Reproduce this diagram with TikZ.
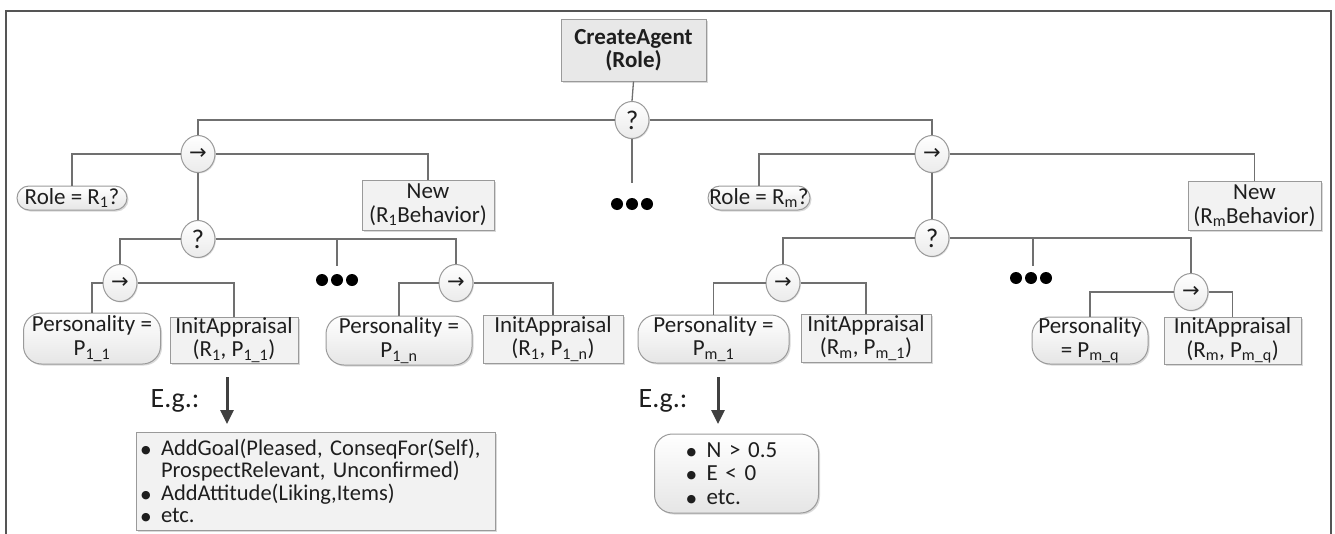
\documentclass[tikz,border=0pt]{standalone}
\usepackage{fontspec}
\setmainfont{Carlito}
\newfontfamily\symfont{DejaVu Sans}
\renewcommand\normalsize{\fontsize{23}{23.5}\selectfont}
\usetikzlibrary{arrows.meta,shapes.geometric,shadows}
\definecolor{linec}{HTML}{707070}
\definecolor{bordc}{HTML}{9A9A9A}
\definecolor{boxfill}{HTML}{F2F2F2}
\definecolor{cafill}{HTML}{E8E8E8}
\definecolor{txt}{HTML}{1E1E1E}
\definecolor{framec}{HTML}{555555}
\newcommand{\sbs}[1]{\textsubscript{#1}}
\newcommand{\seqsym}{{\symfont\fontsize{21}{21}\selectfont →}}
\newcommand{\blt}{\makebox[20pt][l]{\raisebox{2pt}{\symfont\fontsize{11}{11}\selectfont ●}}}
\tikzset{
  conn/.style={draw=linec, line width=1.3pt},
  sqbox/.style={draw=bordc, line width=1pt, fill=boxfill, text=txt, align=center, inner sep=0pt,
    drop shadow={shadow xshift=1.5pt, shadow yshift=-1.5pt, fill=black, opacity=0.15}},
  rndbox/.style={draw=bordc, line width=1pt, top color=white, bottom color=black!10, text=txt, align=center,
    inner sep=0pt, rounded corners=18pt,
    drop shadow={shadow xshift=1.5pt, shadow yshift=-1.5pt, fill=black, opacity=0.15}},
  ctl/.style={ellipse, draw=bordc, line width=1pt, top color=white, bottom color=black!8, text=txt,
    inner sep=0pt, minimum width=34pt, minimum height=37pt,
    drop shadow={shadow xshift=1pt, shadow yshift=-1pt, fill=black, opacity=0.12}},
  qmark/.style={ctl, font=\fontsize{27}{27}\selectfont},
  egtext/.style={text=txt, font=\fontsize{28}{30}\selectfont, inner sep=0pt},
  bigarrow/.style={draw=black!75, line width=3pt, -{Triangle[length=14pt,width=13pt]}},
  dotmark/.style={fill=black},
}
\begin{document}
\begin{tikzpicture}[x=1pt,y=-1pt]
\useasboundingbox (0,0) rectangle (1335,533);
\draw[draw=framec, line width=2pt] (6,534) -- (6,11) -- (1331,11) -- (1331,534);

% root
\node[sqbox, fill=cafill, minimum width=145pt, minimum height=62pt, font=\bfseries] (ca) at (633.5,50) {CreateAgent\\(Role)};
\node[qmark] (q0) at (632,120) {?};
\coordinate (c0) at (632,183);
\fill[dotmark] (617,204) circle (6pt) (632,204) circle (6pt) (647,204) circle (6pt);

% left branch
\node[ctl] (s1) at (198,154) {\seqsym};
\node[rndbox, rounded corners=12pt, minimum width=110pt, minimum height=24pt] (r1) at (72,198) {Role = R\sbs{1}?};
\node[sqbox, minimum width=132pt, minimum height=50pt] (n1) at (428,205) {New\\(R\sbs{1}Behavior)};
\node[qmark] (q1) at (198,239) {?};
\coordinate (m1) at (337,266);
\fill[dotmark] (322,280) circle (6pt) (337,280) circle (6pt) (352,280) circle (6pt);
\node[ctl] (s11) at (120,283) {\seqsym};
\node[ctl] (s1n) at (456,283) {\seqsym};
\node[rndbox, minimum width=137pt, minimum height=51pt] (p11) at (92,338.5) {Personality =\\P\sbs{1\_1}};
\node[sqbox, minimum width=128pt, minimum height=46pt] (i11) at (234,340) {InitAppraisal\\(R\sbs{1}, P\sbs{1\_1})};
\node[rndbox, minimum width=146pt, minimum height=49pt] (p1n) at (399,340.5) {Personality =\\P\sbs{1\_n}};
\node[sqbox, minimum width=140pt, minimum height=48pt] (i1n) at (553,339) {InitAppraisal\\(R\sbs{1}, P\sbs{1\_n})};
\node[egtext] (eg1) at (175,401) {E.g.:};
\coordinate (a1s) at (227,377);
\coordinate (a1e) at (227,424);
\node[sqbox, minimum height=98pt, text width=349pt, inner xsep=5pt, align=left,
  font=\fontsize{22.5}{22.5}\selectfont] (l1) at (315.5,481)
  {\blt AddGoal(Pleased, ConseqFor(Self),\\\hspace*{20pt}ProspectRelevant, Unconfirmed)\\\blt AddAttitude(Liking,Items)\\\blt etc.};

% right branch
\node[ctl] (s2) at (932,154) {\seqsym};
\node[rndbox, rounded corners=12pt, minimum width=102pt, minimum height=24pt] (r2) at (759,198) {Role = R\sbs{m}?};
\node[sqbox, minimum width=133pt, minimum height=49pt] (n2) at (1254.5,206) {New\\(R\sbs{m}Behavior)};
\node[qmark] (q2) at (932,238) {?};
\coordinate (m2) at (1033,266);
\fill[dotmark] (1016,278) circle (6pt) (1031,278) circle (6pt) (1046,278) circle (6pt);
\node[ctl] (s21) at (783,283) {\seqsym};
\node[ctl] (s2q) at (1191,292) {\seqsym};
\node[rndbox, minimum width=151pt, minimum height=48pt] (p21) at (713.5,339) {Personality =\\P\sbs{m\_1}};
\node[sqbox, minimum width=130pt, minimum height=48pt] (i21) at (866,338) {InitAppraisal\\(R\sbs{m}, P\sbs{m\_1})};
\node[rndbox, minimum width=116pt, minimum height=47pt] (p2q) at (1090,340.5) {Personality\\= P\sbs{m\_q}};
\node[sqbox, minimum width=137pt, minimum height=47pt] (i2q) at (1232.5,340.5) {InitAppraisal\\(R\sbs{m}, P\sbs{m\_q})};
\node[egtext] (eg2) at (663,401) {E.g.:};
\coordinate (a2s) at (718,377);
\coordinate (a2e) at (718,424);
\node[rndbox, minimum height=79pt, text width=100pt, inner xsep=32pt, align=left] (l2) at (736.5,473.5)
  {\blt N > 0.5\\\blt E < 0\\\blt etc.};

% connectors
\draw[conn] (ca.south) -- (q0.north);
\draw[conn] (q0.west) -| (s1.north);
\draw[conn] (q0.east) -| (s2.north);
\draw[conn] (q0.south) -- (c0);
\draw[conn] (s1.west) -| (r1.north);
\draw[conn] (s1.east) -| (n1.north);
\draw[conn] (s1.south) -- (q1.north);
\draw[conn] (q1.west) -| (s11.north);
\draw[conn] (q1.east) -| (s1n.north);
\draw[conn] (q1.east -| m1) -- (m1);
\draw[conn] (s11.west) -| (p11.north);
\draw[conn] (s11.east) -| (i11.north);
\draw[conn] (s1n.west) -| (p1n.north);
\draw[conn] (s1n.east) -| (i1n.north);
\draw[conn] (s2.west) -| (r2.north);
\draw[conn] (s2.east) -| (n2.north);
\draw[conn] (s2.south) -- (q2.north);
\draw[conn] (q2.west) -| (s21.north);
\draw[conn] (q2.east) -| (s2q.north);
\draw[conn] (q2.east -| m2) -- (m2);
\draw[conn] (s21.west) -| (p21.north);
\draw[conn] (s21.east) -| (i21.north);
\draw[conn] (s2q.west) -| (p2q.north);
\draw[conn] (s2q.east) -| (i2q.north);
\draw[bigarrow] (a1s) -- (a1e);
\draw[bigarrow] (a2s) -- (a2e);
\end{tikzpicture}
\end{document}
